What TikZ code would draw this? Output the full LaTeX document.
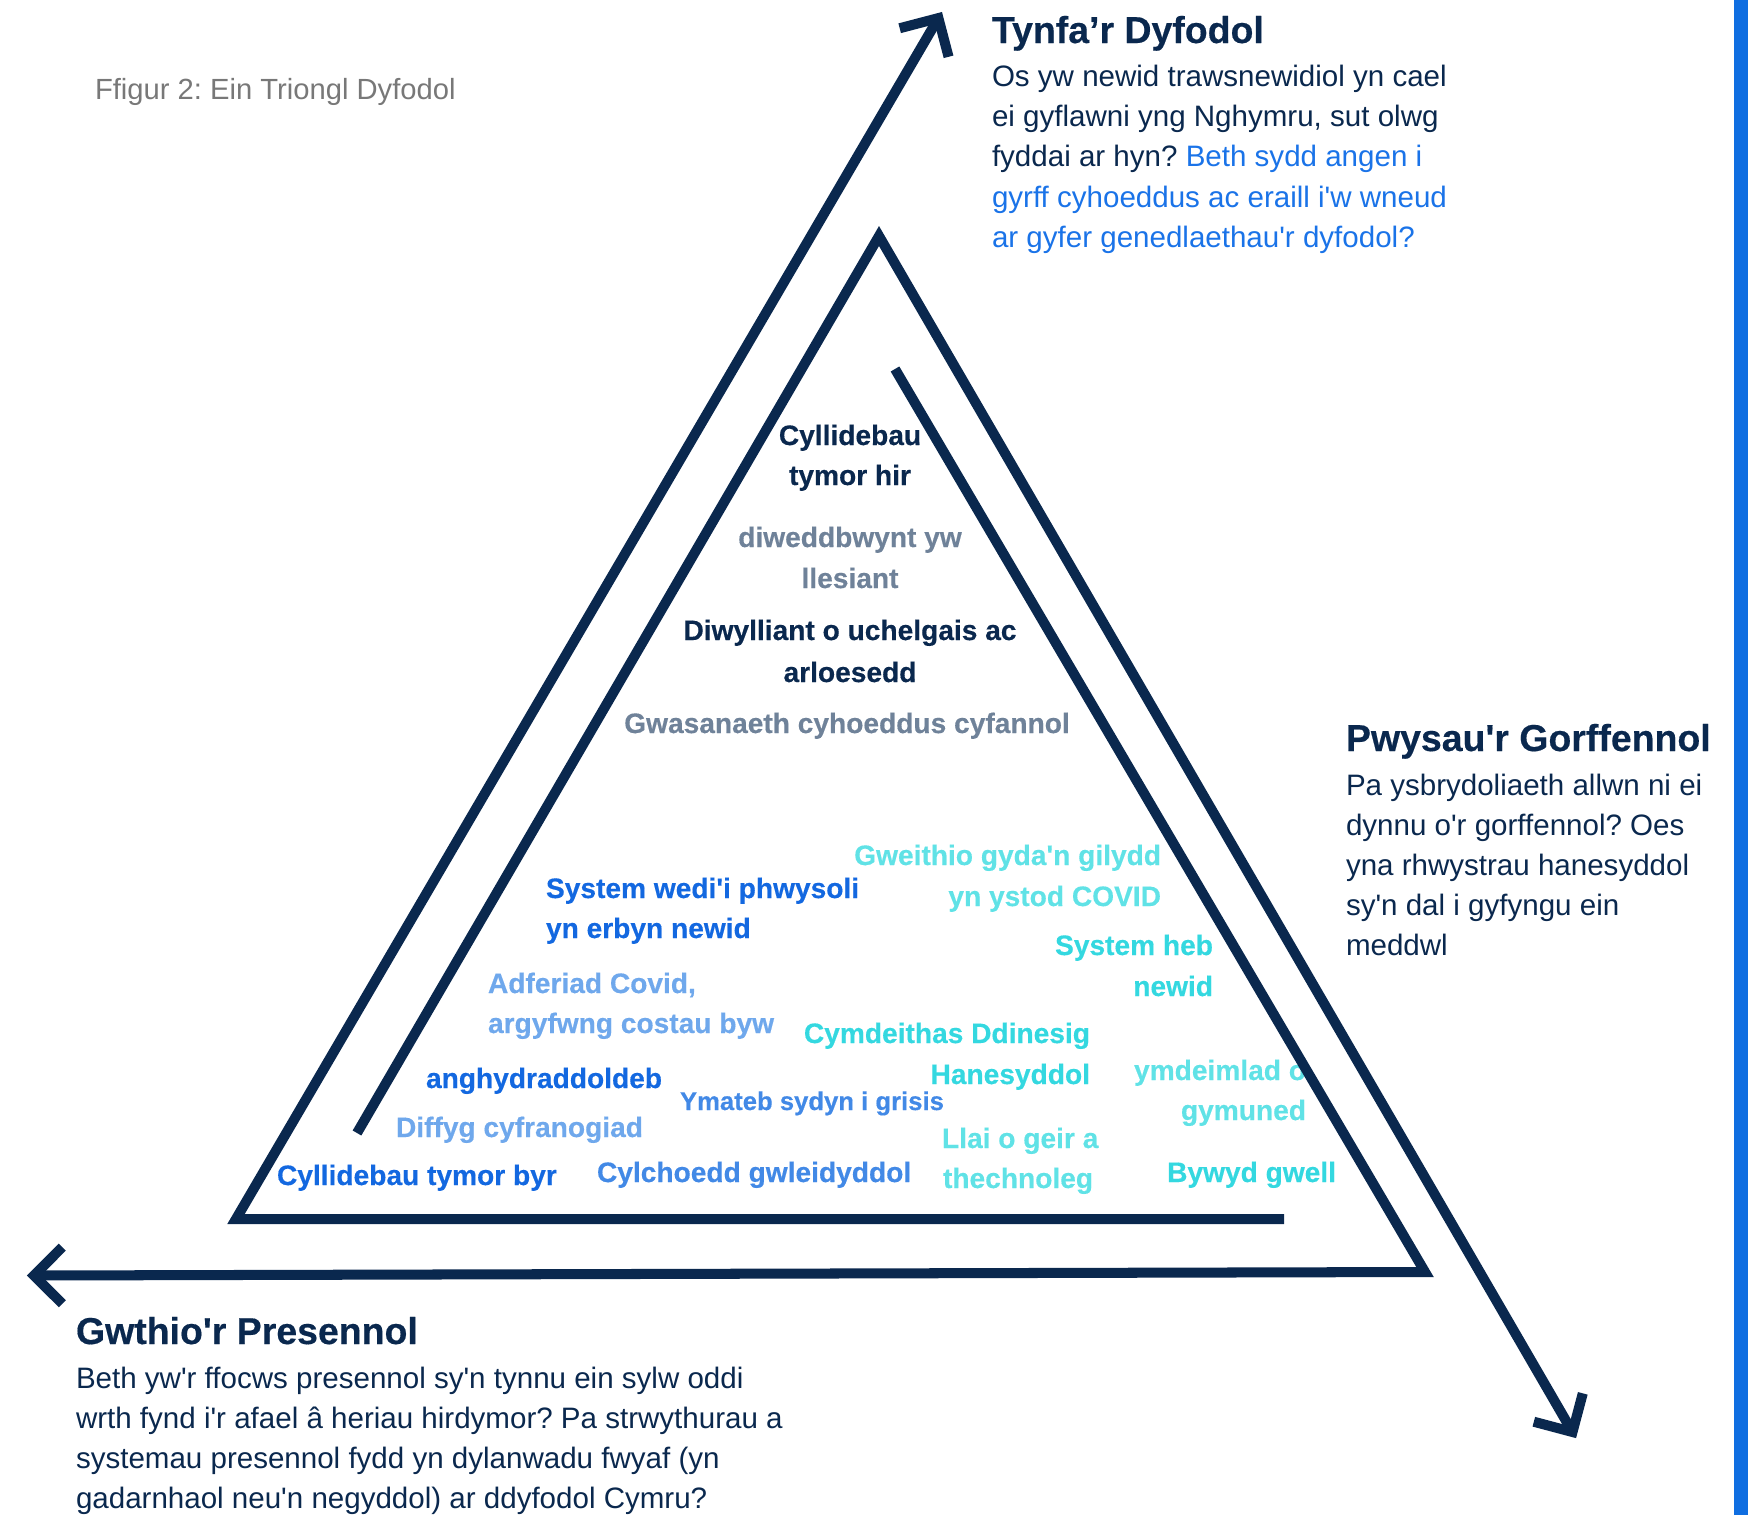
\documentclass[tikz,border=0pt]{standalone}
\usepackage{fontspec}
\setmainfont{Liberation Sans}[Ligatures=TeXOff,BoldFeatures={FakeBold=0.4}]
\usetikzlibrary{calc}
\definecolor{navy}{RGB}{10,40,78}
\definecolor{slate}{RGB}{111,130,153}
\definecolor{blueA}{RGB}{19,104,224}
\definecolor{blueB}{RGB}{66,137,230}
\definecolor{blueL}{RGB}{111,168,236}
\definecolor{cyanL}{RGB}{96,226,230}
\definecolor{cyanD}{RGB}{52,216,224}
\definecolor{bodyblue}{RGB}{26,115,232}
\definecolor{capgray}{RGB}{120,120,120}
\definecolor{barblue}{RGB}{15,110,225}
\frenchspacing
\begin{document}
\begin{tikzpicture}[x=0.01cm,y=-0.01cm,
  every node/.style={inner sep=0pt,outer sep=0pt},
  lbl/.style={font=\fontsize{8}{9.6}\selectfont\bfseries},
  lblsmall/.style={font=\fontsize{7.3}{9}\selectfont\bfseries},
  body/.style={font=\fontsize{8.4}{11}\selectfont,text=navy,anchor=base west},
  head/.style={font=\fontsize{10.65}{12.8}\selectfont\bfseries,text=navy,anchor=base west},
  arrowline/.style={draw=navy,line width=2.85pt,line join=miter,miter limit=10,line cap=butt}]
\useasboundingbox (0,0) rectangle (1748,1515);
\fill[barblue] (1734,0) rectangle (1748,1515);

% caption
\node[font=\fontsize{8.3}{10}\selectfont,text=capgray,anchor=base west] (cap) at (95,100) {Ffigur 2: Ein Triongl Dyfodol};

% Tynfa'r Dyfodol
\node[head] (h1) at (992,43) {Tynfa’r Dyfodol};
\node[body] (b11) at (992,86.5) {Os yw newid trawsnewidiol yn cael};
\node[body] (b12) at (992,126.7) {ei gyflawni yng Nghymru, sut olwg};
\node[body] (b13) at (992,166.9) {fyddai ar hyn? {\color{bodyblue}Beth sydd angen i}};
\node[body,text=bodyblue] (b14) at (992,207.1) {gyrff cyhoeddus ac eraill i'w wneud};
\node[body,text=bodyblue] (b15) at (992,247.3) {ar gyfer genedlaethau'r dyfodol?};

% Pwysau'r Gorffennol
\node[head] (h2) at (1346,751) {Pwysau'r Gorffennol};
\node[body] (b21) at (1346,795) {Pa ysbrydoliaeth allwn ni ei};
\node[body] (b22) at (1346,835.2) {dynnu o'r gorffennol? Oes};
\node[body] (b23) at (1346,875.4) {yna rhwystrau hanesyddol};
\node[body] (b24) at (1346,915.6) {sy'n dal i gyfyngu ein};
\node[body] (b25) at (1346,955.8) {meddwl};

% Gwthio'r Presennol
\node[head] (h3) at (76,1344) {Gwthio'r Presennol};
\node[body] (b31) at (76,1388) {Beth yw'r ffocws presennol sy'n tynnu ein sylw oddi};
\node[body] (b32) at (76,1428.2) {wrth fynd i'r afael â heriau hirdymor? Pa strwythurau a};
\node[body] (b33) at (76,1468.4) {systemau presennol fydd yn dylanwadu fwyaf (yn};
\node[body] (b34) at (76,1508.6) {gadarnhaol neu'n negyddol) ar ddyfodol Cymru?};

% inner labels - top
\node[lbl,text=navy,anchor=base] (l1a) at (850,445) {Cyllidebau};
\node[lbl,text=navy,anchor=base] (l1b) at (850,485) {tymor hir};
\node[lbl,text=slate,anchor=base] (l2a) at (850,547) {diweddbwynt yw};
\node[lbl,text=slate,anchor=base] (l2b) at (850,588) {llesiant};
\node[lbl,text=navy,anchor=base] (l3a) at (850,640) {Diwylliant o uchelgais ac};
\node[lbl,text=navy,anchor=base] (l3b) at (850,682) {arloesedd};
\node[lbl,text=slate,anchor=base] (l4) at (847,733) {Gwasanaeth cyhoeddus cyfannol};

% inner labels - blues
\node[lbl,text=blueA,anchor=base west] (l5a) at (546,898) {System wedi'i phwysoli};
\node[lbl,text=blueA,anchor=base west] (l5b) at (546,938) {yn erbyn newid};
\node[lbl,text=blueA,anchor=base west] (l6) at (426,1088) {anghydraddoldeb};
\node[lbl,text=blueA,anchor=base west] (l7) at (277,1185) {Cyllidebau tymor byr};
\node[lblsmall,text=blueB,anchor=base west] (l8) at (680,1110) {Ymateb sydyn i grisis};
\node[lbl,text=blueB,anchor=base west] (l9) at (597,1182) {Cylchoedd gwleidyddol};
\node[lbl,text=blueL,anchor=base west] (l10a) at (488,993) {Adferiad Covid,};
\node[lbl,text=blueL,anchor=base west] (l10b) at (488,1033) {argyfwng costau byw};
\node[lbl,text=blueL,anchor=base west] (l11) at (396,1137) {Diffyg cyfranogiad};

% inner labels - cyans
\node[lbl,text=cyanL,anchor=base east] (l12a) at (1161,865) {Gweithio gyda'n gilydd};
\node[lbl,text=cyanL,anchor=base east] (l12b) at (1161,906) {yn ystod COVID};
\node[lbl,text=cyanD,anchor=base east] (l13a) at (1213,955) {System heb};
\node[lbl,text=cyanD,anchor=base east] (l13b) at (1213,996) {newid};
\node[lbl,text=cyanD,anchor=base east] (l14a) at (1090,1043) {Cymdeithas Ddinesig};
\node[lbl,text=cyanD,anchor=base east] (l14b) at (1090,1084) {Hanesyddol};
\node[lbl,text=cyanL,anchor=base east] (l15a) at (1306,1080) {ymdeimlad o};
\node[lbl,text=cyanL,anchor=base east] (l15b) at (1306,1120) {gymuned};
\node[lbl,text=cyanL,anchor=base west] (l16a) at (942,1148) {Llai o geir a};
\node[lbl,text=cyanL,anchor=base west] (l16b) at (943,1188) {thechnoleg};
\node[lbl,text=cyanD,anchor=base east] (l17) at (1336,1182) {Bywyd gwell};

% arrow geometry
\coordinate (P1s) at (1284,1219);
\coordinate (BL) at (236,1219);
\coordinate (T1) at (938.4,18.1);
\coordinate (P2s) at (357,1133);
\coordinate (AP) at (879,236);
\coordinate (T2) at (1572.5,1432);
\coordinate (P3s) at (895,369);
\coordinate (BR) at (1425,1272);
\coordinate (T3) at (34,1275.5);

% Tynfa'r Dyfodol arrow
\draw[arrowline] (P1s) -- (BL) -- (T1);
\draw[arrowline] ($(T1)!0.4cm!45:(BL)$) -- (T1) -- ($(T1)!0.4cm!-45:(BL)$);
% Pwysau'r Gorffennol arrow
\draw[arrowline] (P2s) -- (AP) -- (T2);
\draw[arrowline] ($(T2)!0.4cm!45:(AP)$) -- (T2) -- ($(T2)!0.4cm!-45:(AP)$);
% Gwthio'r Presennol arrow
\draw[arrowline] (P3s) -- (BR) -- (T3);
\draw[arrowline] ($(T3)!0.4cm!45:(BR)$) -- (T3) -- ($(T3)!0.4cm!-45:(BR)$);
\end{tikzpicture}
\end{document}
